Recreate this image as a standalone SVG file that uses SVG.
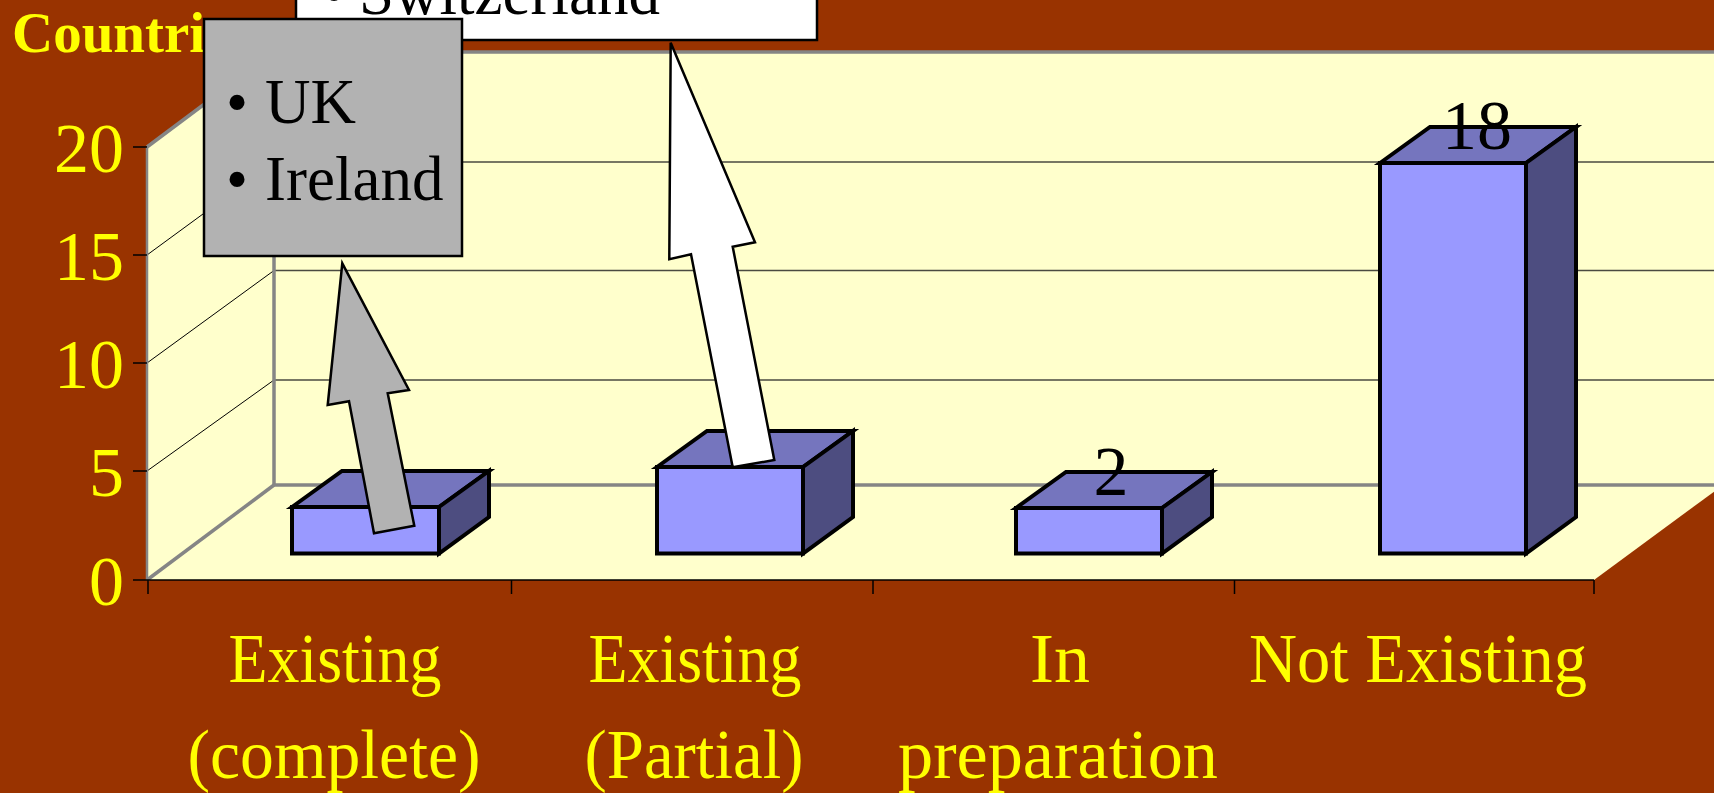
<svg xmlns="http://www.w3.org/2000/svg" width="1714" height="793" viewBox="0 0 1714 793">
<style>
.serif{font-family:"Liberation Serif","Times New Roman",serif}
.ylab{font-size:70px;fill:#FFFF00;text-anchor:end}
.cat{font-size:70px;fill:#FFFF00;text-anchor:middle}
.val{font-size:70px;fill:#000;text-anchor:middle}
.front{fill:#9999FF;stroke:#000;stroke-width:4;stroke-linejoin:miter}
.top{fill:#7575BE;stroke:#000;stroke-width:4}
.side{fill:#4D4D80;stroke:#000;stroke-width:4}
.grid{stroke:#4a4a40;stroke-width:1.5;fill:none}
.wgrid{stroke:#000;stroke-width:1;fill:none}
.frame{stroke:#858585;stroke-width:3.5;fill:none}
.tick{stroke:#000;stroke-width:1.5}
.box{stroke:#000;stroke-width:2.5}
.bul{font-size:63px;fill:#000}
.arrow{stroke:#000;stroke-width:2.5;stroke-linejoin:miter}
</style>
<rect x="0" y="0" width="1714" height="793" fill="#993300"/>
<g id="chart-area">
  <polygon points="274,52 1714,52 1714,485 274,485" fill="#FFFFCC"/>
  <polygon points="147,147 274,52 274,485 147,580" fill="#FFFFCC"/>
  <polygon points="147,580 274,485 1723,485 1594,580" fill="#FFFFCC"/>
  <line class="grid" x1="274" y1="162" x2="1714" y2="162"/>
  <line class="grid" x1="274" y1="270.5" x2="1714" y2="270.5"/>
  <line class="grid" x1="274" y1="380" x2="1714" y2="380"/>
  <line class="wgrid" x1="147" y1="255" x2="274" y2="162"/>
  <line class="wgrid" x1="147" y1="363" x2="274" y2="270.5"/>
  <line class="wgrid" x1="147" y1="471" x2="274" y2="380"/>
  <line class="frame" x1="274" y1="52" x2="1714" y2="52"/>
  <line class="frame" x1="147" y1="147" x2="274" y2="52"/>
  <line class="frame" x1="274" y1="52" x2="274" y2="485"/>
  <line class="frame" x1="274" y1="485" x2="1714" y2="485"/>
  <line class="frame" x1="147" y1="580" x2="274" y2="485"/>
  <line x1="147" y1="147" x2="147" y2="580" stroke="#858585" stroke-width="2.5"/>
  <line x1="147" y1="580" x2="1594" y2="580" stroke="#000" stroke-width="1.5"/>
  <line class="tick" x1="133" y1="147" x2="147" y2="147"/>
  <line class="tick" x1="133" y1="255" x2="147" y2="255"/>
  <line class="tick" x1="133" y1="363" x2="147" y2="363"/>
  <line class="tick" x1="133" y1="471" x2="147" y2="471"/>
  <line class="tick" x1="133" y1="580" x2="147" y2="580"/>
  <line class="tick" x1="148" y1="580" x2="148" y2="594"/>
  <line class="tick" x1="511.5" y1="580" x2="511.5" y2="594"/>
  <line class="tick" x1="873" y1="580" x2="873" y2="594"/>
  <line class="tick" x1="1234.5" y1="580" x2="1234.5" y2="594"/>
  <line class="tick" x1="1594" y1="580" x2="1594" y2="594"/>
  <g class="serif">
    <text class="ylab" x="124" y="171.5">20</text>
    <text class="ylab" x="124" y="279.5">15</text>
    <text class="ylab" x="124" y="387.5">10</text>
    <text class="ylab" x="124" y="495.5">5</text>
    <text class="ylab" x="124" y="604.5">0</text>
    <text class="cat" x="335" y="682" textLength="213" lengthAdjust="spacingAndGlyphs">Existing</text>
    <text class="cat" x="334" y="778" textLength="293" lengthAdjust="spacingAndGlyphs">(complete)</text>
    <text class="cat" x="695" y="682" textLength="213" lengthAdjust="spacingAndGlyphs">Existing</text>
    <text class="cat" x="694" y="778" textLength="219" lengthAdjust="spacingAndGlyphs">(Partial)</text>
    <text class="cat" x="1060" y="682" textLength="60" lengthAdjust="spacingAndGlyphs">In</text>
    <text class="cat" x="1058" y="778" textLength="320" lengthAdjust="spacingAndGlyphs">preparation</text>
    <text class="cat" x="1418" y="682" textLength="338" lengthAdjust="spacingAndGlyphs">Not Existing</text>
  </g>
  <text x="12" y="52" font-family="Liberation Serif, Times New Roman, serif" font-weight="bold" font-size="57" fill="#FFFF00">Countri</text>
</g>
<g id="bar-existing-complete">
  <polygon class="top" points="292,507 342,471 489,471 439,507"/>
  <polygon class="side" points="439,507 489,471 489,517 439,553.5"/>
  <rect class="front" x="292" y="507" width="147" height="46.5"/>
</g>
<g id="bar-existing-partial">
  <polygon class="top" points="657,467 707,431 853,431 803,467"/>
  <polygon class="side" points="803,467 853,431 853,517 803,553.5"/>
  <rect class="front" x="657" y="467" width="146" height="86.5"/>
</g>
<g id="bar-in-preparation">
  <polygon class="top" points="1016,508 1066,472 1212,472 1162,508"/>
  <polygon class="side" points="1162,508 1212,472 1212,517 1162,553.5"/>
  <rect class="front" x="1016" y="508" width="146" height="45.5"/>
  <text class="val serif" x="1111" y="495">2</text>
</g>
<g id="bar-not-existing">
  <polygon class="top" points="1380,163 1430,127 1576,127 1526,163"/>
  <polygon class="side" points="1526,163 1576,127 1576,517 1526,553.5"/>
  <rect class="front" x="1380" y="163" width="146" height="390.5"/>
  <text class="val serif" x="1477" y="149">18</text>
</g>
<g id="callout-switzerland">
  <rect class="box" x="296" y="-60" width="521" height="100" fill="#FFFFFF"/>
  <text class="bul serif" y="14"><tspan x="323">•</tspan><tspan x="359">Switzerland</tspan></text>
</g>
<g id="callout-uk-ireland">
  <rect class="box" x="204" y="19" width="258" height="237" fill="#B2B2B2"/>
  <text class="bul serif" y="123"><tspan x="226">•</tspan><tspan x="265">UK</tspan></text>
  <text class="bul serif" y="200"><tspan x="226">•</tspan><tspan x="265">Ireland</tspan></text>
</g>
<g id="connectors">
  <polygon class="arrow" fill="#B2B2B2" points="342.3,263.3 409,390 387.7,393.3 414.3,525.7 374,533.3 349,401.3 327.7,405"/>
  <polygon class="arrow" fill="#FFFFFF" points="670.7,42.7 755,242.3 732.7,246.7 774.3,460 732.7,467.3 691,254.3 669.3,259.3"/>
</g>
</svg>
